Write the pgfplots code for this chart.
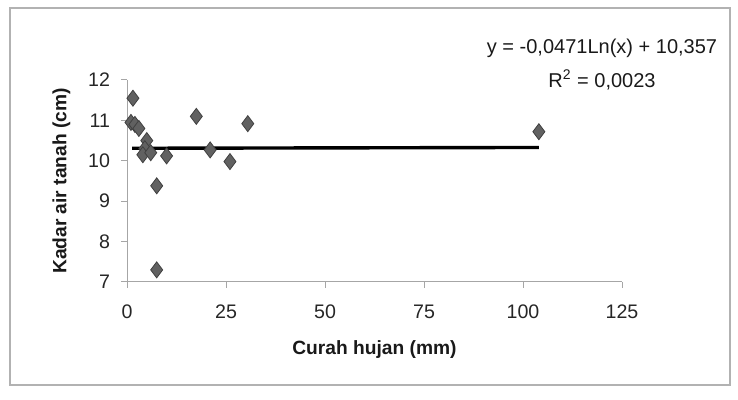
\documentclass[border=0pt]{standalone}
\usepackage{pgfplots}
\pgfplotsset{compat=1.18}
\usepackage{fontspec}
\setmainfont{Liberation Sans}
\begin{document}
\begin{tikzpicture}
\path (0,0) rectangle (369pt,200pt);
\draw[gray!60, line width=0.6pt] (5pt,7.5pt) rectangle (365pt,196pt);
\begin{axis}[
  at={(63.5pt,59pt)}, anchor=south west,
  scale only axis, width=247.5pt, height=101pt,
  xmin=0, xmax=125, ymin=7, ymax=12,
  xtick={0,25,50,75,100,125}, ytick={7,8,9,10,11,12},
  axis x line=bottom, axis y line=left,
  axis line style={gray!70, line width=0.5pt, -},
  tick style={gray!70, line width=0.5pt},
  major tick length=3pt,
  tick align=outside,
  /pgf/number format/assume math mode=true,
  ticklabel style={font=\fontsize{9.8}{11}\selectfont, text=black!85},
  xticklabel style={yshift=-5pt},
  yticklabel style={xshift=-2pt},
  xlabel={\textbf{Curah hujan (mm)}},
  ylabel={\textbf{Kadar air tanah (cm)}},
  label style={font=\fontsize{9.6}{11}\selectfont, text=black!90},
  xlabel style={yshift=-4pt},
  ylabel style={yshift=2pt},
  clip=false,
]
\addplot[only marks, mark=diamond*, mark size=4pt,
  mark options={fill=black!62, draw=black!75, line width=0.4pt}]
coordinates {
 (1.5,11.55) (1,10.95) (2,10.9) (3,10.8) (5,10.5) (4.5,10.3) (4,10.15)
 (6,10.2) (10,10.12) (7.5,9.38) (7.5,7.3) (17.5,11.1) (21,10.27)
 (26,9.98) (30.5,10.92) (104,10.72)
};
\addplot[black, line width=1.7pt] coordinates {
 (1.3,10.31) (104,10.33)
};
\end{axis}
\node[font=\fontsize{10}{11}\selectfont, text=black!90] at (301pt,176pt) {y = -0,0471Ln(x) + 10,357};
\node[font=\fontsize{10}{11}\selectfont, text=black!90] at (301pt,160pt) {R\textsuperscript{2} = 0,0023};
\end{tikzpicture}
\end{document}
